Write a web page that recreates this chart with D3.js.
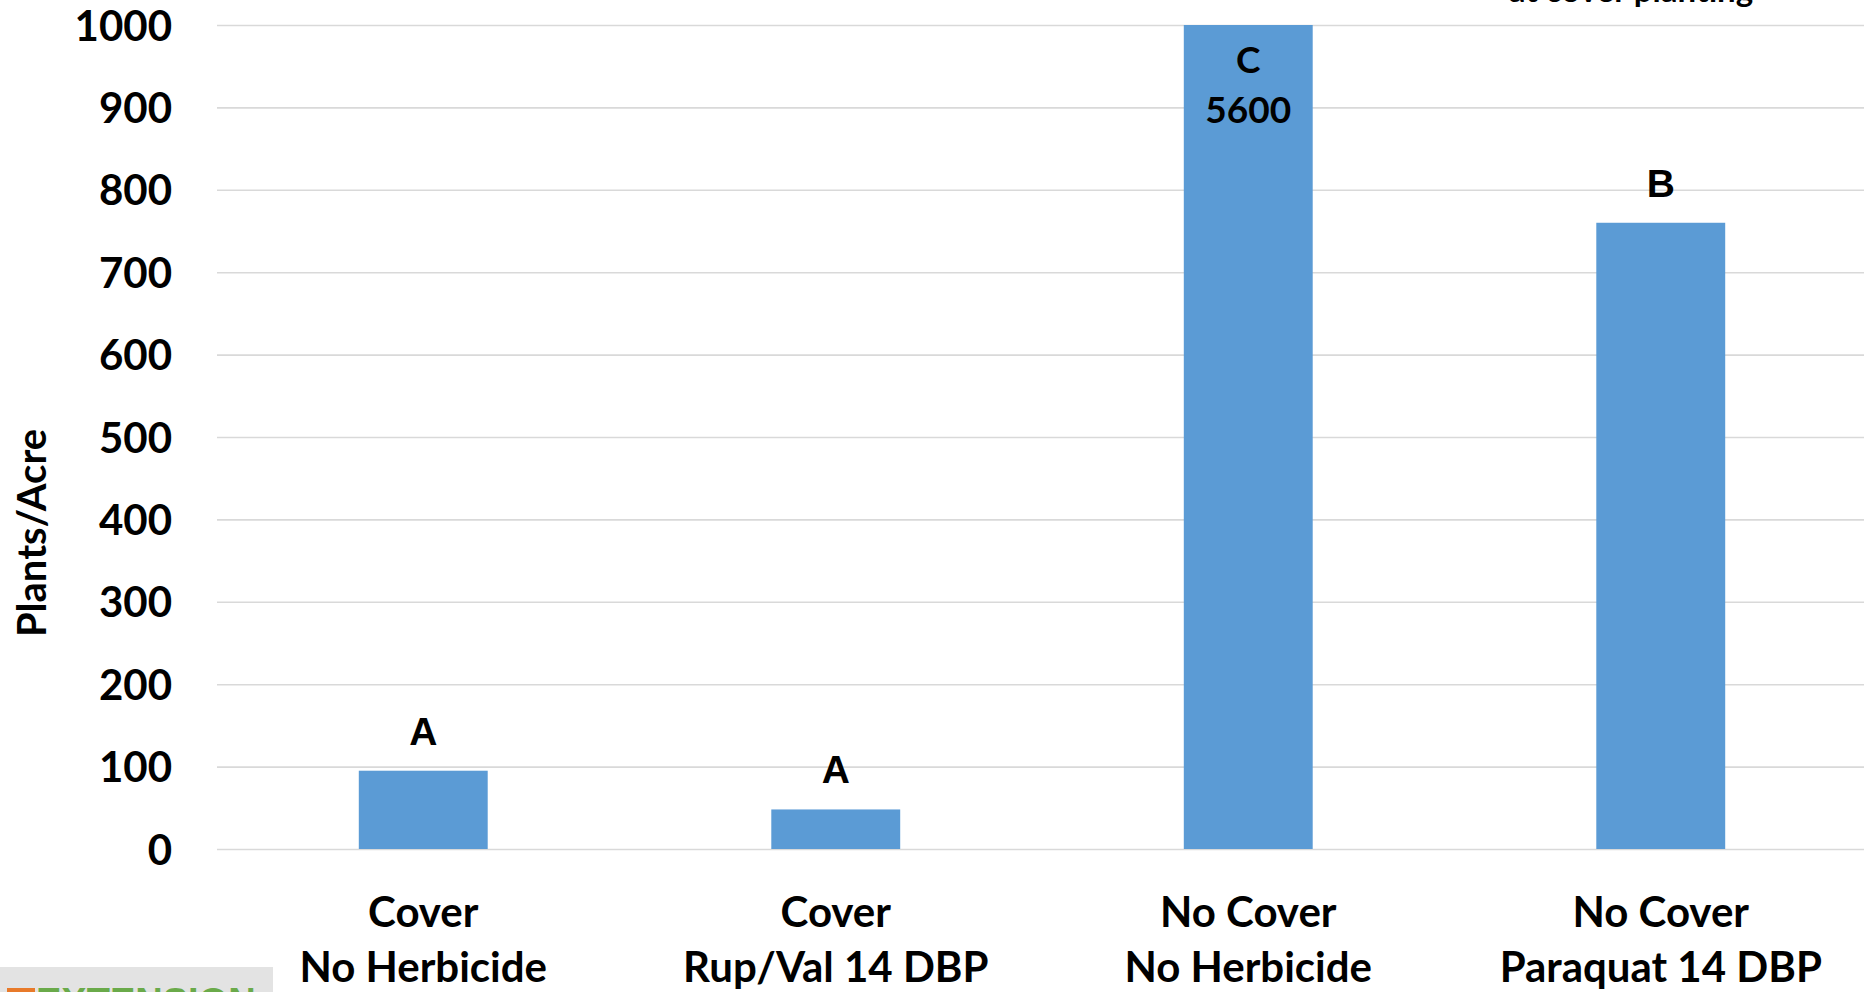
<!DOCTYPE html>
<html>
<head>
<meta charset="utf-8">
<script src="https://cdn.jsdelivr.net/npm/d3@7"></script>
<style>
  html, body { margin: 0; padding: 0; background: #ffffff; overflow: hidden; }
  svg { display: block; }
</style>
</head>
<body>
<svg id="chart" width="1864" height="992"></svg>
<script>
// ---- data ----
const categories = ["Cover\nNo Herbicide", "Cover\nRup/Val 14 DBP", "No Cover\nNo Herbicide", "No Cover\nParaquat 14 DBP"];
const values = [95, 48, 5600, 760];
const letters = ["A", "A", "C", "B"];
const yTicks = [0, 100, 200, 300, 400, 500, 600, 700, 800, 900, 1000];
const yDomain = [0, 1000];
const yTitle = "Plants/Acre";
const cornerNote = "at cover planting";
const logoText = "EXTENSION";

// ---- layout ----
const svg = d3.select("#chart");
const W = 1864, H = 992;
const plotLeft = 217, plotRight = 1867, plotTop = 25, plotBottom = 849;
const font = "Lato, 'Open Sans', sans-serif";

const x = d3.scaleBand().domain(categories).range([plotLeft, plotRight]).padding(0);
const y = d3.scaleLinear().domain(yDomain).range([plotBottom, plotTop]).clamp(true);
const barW = x.bandwidth() * 0.3125;

// gridlines + y tick labels
const yAxis = svg.append("g")
  .attr("transform", `translate(${plotLeft},0)`)
  .call(d3.axisLeft(y).tickValues(yTicks).tickSizeInner(-(W - plotLeft)).tickSizeOuter(0).tickPadding(45).tickFormat(d3.format("d")));
yAxis.select(".domain").remove();
yAxis.selectAll(".tick line").attr("stroke", "#d9d9d9").attr("stroke-width", 1.6);
yAxis.selectAll(".tick text")
  .attr("font-family", font).attr("font-weight", 700).attr("font-size", 42)
  .attr("fill", "#000").attr("dy", "0.36em");

// bars
svg.append("g").selectAll("rect").data(values).join("rect")
  .attr("x", (d, i) => x(categories[i]) + x.bandwidth() / 2 - barW / 2)
  .attr("y", d => y(d))
  .attr("width", barW)
  .attr("height", d => plotBottom - y(d))
  .attr("fill", "#5b9bd5");

// letter labels
const labG = svg.append("g");
values.forEach((v, i) => {
  const cx = x(categories[i]) + x.bandwidth() / 2;
  if (v > yDomain[1]) {
    labG.append("text").attr("x", cx).attr("y", y(yDomain[1]) + 48)
      .attr("text-anchor", "middle").attr("font-family", font).attr("font-weight", 700)
      .attr("font-size", 37).attr("fill", "#000").text(letters[i]);
    labG.append("text").attr("x", cx).attr("y", y(yDomain[1]) + 98)
      .attr("text-anchor", "middle").attr("font-family", font).attr("font-weight", 700)
      .attr("font-size", 37).attr("fill", "#000").text(d3.format("d")(v));
  } else {
    labG.append("text").attr("x", cx).attr("y", y(v) - 26)
      .attr("text-anchor", "middle").attr("font-family", "'Liberation Sans', Arial, sans-serif").attr("font-weight", 700)
      .attr("font-size", 39).attr("fill", "#000").text(letters[i]);
  }
});

// x-axis category labels
const xAxis = svg.append("g")
  .attr("transform", `translate(0,${plotBottom})`)
  .call(d3.axisBottom(x).tickSize(0).tickFormat(""));
xAxis.select(".domain").remove();
xAxis.selectAll(".tick").each(function(d) {
  const lines = d.split("\n");
  const t = d3.select(this).append("text")
    .attr("text-anchor", "middle").attr("font-family", font).attr("font-weight", 700)
    .attr("font-size", 42).attr("fill", "#000");
  lines.forEach((ln, k) => {
    t.append("tspan").attr("x", 0).attr("y", 78 + k * 55).text(ln);
  });
});

// y title
svg.append("text")
  .attr("transform", `translate(46,533) rotate(-90)`)
  .attr("text-anchor", "middle").attr("font-family", font).attr("font-weight", 700)
  .attr("font-size", 40).attr("fill", "#000").text(yTitle);

// cut-off corner note
svg.append("text")
  .attr("x", 1631).attr("y", 2)
  .attr("text-anchor", "middle").attr("font-family", font).attr("font-weight", 700)
  .attr("font-size", 33).attr("fill", "#000").text(cornerNote);

// cut-off logo at bottom left
svg.append("rect").attr("x", 0).attr("y", 967).attr("width", 273).attr("height", 25).attr("fill", "#e3e3e3");
svg.append("rect").attr("x", 7).attr("y", 988).attr("width", 28).attr("height", 4).attr("fill", "#e87a2a");
svg.append("text").attr("x", 36).attr("y", 1015)
  .attr("font-family", "'Liberation Sans', Arial, sans-serif").attr("font-weight", 700)
  .attr("font-size", 38).attr("fill", "#6aaa4a").text(logoText);
</script>
</body>
</html>
